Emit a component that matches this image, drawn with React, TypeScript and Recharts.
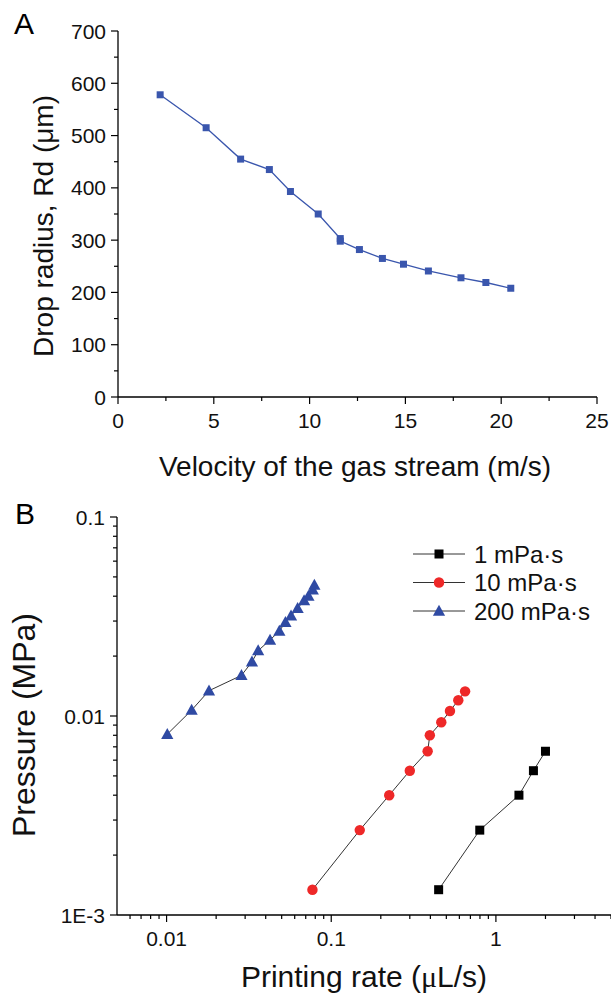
import React from 'react';
import { ScatterChart, Scatter, XAxis, YAxis, Label } from 'recharts';

const FONT = '"Liberation Sans", Arial, sans-serif';

// Panel A: drop radius vs gas velocity
const velocity = [2.2, 4.6, 6.4, 7.9, 9.0, 10.45, 11.6, 11.6, 12.6, 13.8, 14.9, 16.2, 17.9, 19.2, 20.5];
const dropRadius = [578, 515, 455, 435, 393, 350, 303, 298, 282, 265, 254, 241, 228, 219, 208];

const aXMajor = [0, 5, 10, 15, 20, 25];
const aXMinor = [2.5, 7.5, 12.5, 17.5, 22.5];
const aYMajor = [0, 100, 200, 300, 400, 500, 600, 700];
const aYMinor = [50, 150, 250, 350, 450, 550, 650];

// Panel B: pressure vs printing rate
const rate1 = [0.449, 0.798, 1.38, 1.69, 2.0];
const pressure1 = [0.00134, 0.00267, 0.004, 0.00531, 0.00665];
const rate10 = [0.0769, 0.149, 0.225, 0.3, 0.385, 0.397, 0.466, 0.526, 0.591, 0.65];
const pressure10 = [0.00134, 0.00267, 0.004, 0.00531, 0.00665, 0.008, 0.0093, 0.0106, 0.012, 0.0133];
const rate200 = [0.0101, 0.0142, 0.0181, 0.0285, 0.033, 0.036, 0.0425, 0.0484, 0.0527, 0.057, 0.0625, 0.0684, 0.0727, 0.0773, 0.079];
const pressure200 = [0.0081, 0.0107, 0.0134, 0.016, 0.0187, 0.0213, 0.0241, 0.0267, 0.0296, 0.0319, 0.0348, 0.038, 0.0401, 0.043, 0.0455];

const bXMajor = [0.01, 0.1, 1];
const bXMinor = [0.006, 0.007, 0.008, 0.009, 0.02, 0.03, 0.04, 0.05, 0.06, 0.07, 0.08, 0.09, 0.2, 0.3, 0.4, 0.5, 0.6, 0.7, 0.8, 0.9, 2, 3, 4, 5];
const bYMajor = [0.001, 0.01, 0.1];
const bYMinor = [0.002, 0.003, 0.004, 0.005, 0.006, 0.007, 0.008, 0.009, 0.02, 0.03, 0.04, 0.05, 0.06, 0.07, 0.08, 0.09];
const bYLabels: Record<string, string> = { '0.001': '1E-3', '0.01': '0.01', '0.1': '0.1' };

const zip = (xs: number[], ys: number[]) => xs.map((x, i) => ({ x, y: ys[i] }));
const dataA = zip(velocity, dropRadius);

const BLUE_A = '#3a56ad';
const BLUE = '#2f4aa3';
const RED = '#ee2828';

const seriesB = [
  { name: '1 mPa·s', data: zip(rate1, pressure1), color: '#000', shape: 'square' },
  { name: '10 mPa·s', data: zip(rate10, pressure10), color: RED, shape: 'circle' },
  { name: '200 mPa·s', data: zip(rate200, pressure200), color: BLUE, shape: 'triangle' },
];

const Marker = ({ cx, cy, shape, color, s }: any) => {
  if (shape === 'circle') return <circle cx={cx} cy={cy} r={s * 0.58} fill={color} />;
  if (shape === 'triangle')
    return <polygon points={`${cx},${cy - s * 0.7} ${cx - s * 0.68},${cy + s * 0.52} ${cx + s * 0.68},${cy + s * 0.52}`} fill={color} />;
  return <rect x={cx - s / 2} y={cy - s / 2} width={s} height={s} fill={color} />;
};

const XTick = ({ x, y, payload, majors, fmt, fs }: any) => {
  const major = majors.includes(payload.value);
  return (
    <g>
      <line x1={x} x2={x} y1={y} y2={y + (major ? 7 : 4)} stroke="#000" strokeWidth={1.2} />
      {major && (
        <text x={x} y={y + 14} dy="0.8em" textAnchor="middle" fontSize={fs} fontFamily={FONT} fill="#111">
          {fmt(payload.value)}
        </text>
      )}
    </g>
  );
};

const YTick = ({ x, y, payload, majors, fmt, fs }: any) => {
  const major = majors.includes(payload.value);
  return (
    <g>
      <line x1={x} x2={x - (major ? 7 : 4)} y1={y} y2={y} stroke="#000" strokeWidth={1.2} />
      {major && (
        <text x={x - 12} y={y} dy="0.36em" textAnchor="end" fontSize={fs} fontFamily={FONT} fill="#111">
          {fmt(payload.value)}
        </text>
      )}
    </g>
  );
};

const title = (text: React.ReactNode, x: number, y: number, fs: number, rotate = false) => () => (
  <text
    x={x}
    y={y}
    textAnchor="middle"
    fontSize={fs}
    fontFamily={FONT}
    fill="#111"
    transform={rotate ? `rotate(-90 ${x} ${y})` : undefined}
  >
    {text}
  </text>
);

const LegendB = () => (
  <svg width={200} height={90} style={{ display: 'block' }}>
    {seriesB.map((s, i) => {
      const y = 14 + i * 28.5;
      return (
        <g key={s.name}>
          <line x1={2} x2={54} y1={y} y2={y} stroke="#333" strokeWidth={1} />
          <Marker cx={28} cy={y} shape={s.shape} color={s.color} s={9} />
          <text x={63} y={y} dy="0.36em" fontSize={24} fontFamily={FONT} fill="#111">
            {s.name}
          </text>
        </g>
      );
    })}
  </svg>
);

export default function App() {
  return (
    <div style={{ position: 'absolute', left: 0, top: 0, width: 611, height: 998, background: '#fff', overflow: 'hidden' }}>
      <div style={{ position: 'absolute', left: 14, top: 6, fontFamily: FONT, fontSize: 30, color: '#000', lineHeight: '36px' }}>A</div>
      <div style={{ position: 'absolute', left: 15, top: 496, fontFamily: FONT, fontSize: 30, color: '#000', lineHeight: '36px' }}>B</div>

      <div style={{ position: 'absolute', left: 0, top: 0 }}>
        <ScatterChart width={611} height={490} margin={{ top: 31, right: 14, left: 0, bottom: 33 }}>
          <XAxis
            type="number"
            dataKey="x"
            domain={[0, 25]}
            ticks={[...aXMajor, ...aXMinor]}
            interval={0}
            tickSize={0}
            tickMargin={0}
            height={60}
            axisLine={{ stroke: '#000', strokeWidth: 1.3 }}
            tickLine={false}
            tick={(p: any) => <XTick {...p} majors={aXMajor} fmt={(v: number) => String(v)} fs={21} />}
          >
            <Label content={title('Velocity of the gas stream (m/s)', 355, 476, 28)} />
          </XAxis>
          <YAxis
            type="number"
            dataKey="y"
            domain={[0, 700]}
            ticks={[...aYMajor, ...aYMinor]}
            interval={0}
            tickSize={0}
            tickMargin={0}
            width={118}
            axisLine={{ stroke: '#000', strokeWidth: 1.3 }}
            tickLine={false}
            tick={(p: any) => <YTick {...p} majors={aYMajor} fmt={(v: number) => String(v)} fs={21} />}
          >
            <Label content={title('Drop radius, Rd (μm)', 53, 226, 28, true)} />
          </YAxis>
          <Scatter
            data={dataA}
            isAnimationActive={false}
            line={{ stroke: BLUE_A, strokeWidth: 1.3 }}
            lineType="joint"
            shape={(p: any) => <Marker cx={p.cx} cy={p.cy} shape="square" color={BLUE_A} s={7} />}
          />
        </ScatterChart>
      </div>

      <div style={{ position: 'absolute', left: 0, top: 490 }}>
        <ScatterChart width={611} height={508} margin={{ top: 27, right: 0, left: 0, bottom: 23 }}>
          <XAxis
            type="number"
            dataKey="x"
            scale="log"
            domain={[0.005, 5]}
            allowDataOverflow
            ticks={[...bXMajor, ...bXMinor]}
            interval={0}
            tickSize={0}
            tickMargin={0}
            height={60}
            axisLine={{ stroke: '#000', strokeWidth: 1.3 }}
            tickLine={false}
            tick={(p: any) => <XTick {...p} majors={bXMajor} fmt={(v: number) => String(v)} fs={21} />}
          >
            <Label
              content={title(
                <>
                  Printing rate (<tspan fontFamily='"Liberation Serif", serif'>μ</tspan>L/s)
                </>,
                364,
                497,
                30
              )}
            />
          </XAxis>
          <YAxis
            type="number"
            dataKey="y"
            scale="log"
            domain={[0.001, 0.1]}
            allowDataOverflow
            ticks={[...bYMajor, ...bYMinor]}
            interval={0}
            tickSize={0}
            tickMargin={0}
            width={117}
            axisLine={{ stroke: '#000', strokeWidth: 1.3 }}
            tickLine={false}
            tick={(p: any) => <YTick {...p} majors={bYMajor} fmt={(v: number) => bYLabels[String(v)]} fs={21} />}
          >
            <Label content={title('Pressure (MPa)', 35, 235, 32, true)} />
          </YAxis>
          {seriesB.map((s) => (
            <Scatter
              key={s.name}
              name={s.name}
              data={s.data}
              isAnimationActive={false}
              line={{ stroke: '#333', strokeWidth: 1 }}
              lineType="joint"
              shape={(p: any) => <Marker cx={p.cx} cy={p.cy} shape={s.shape} color={s.color} s={9} />}
            />
          ))}
        </ScatterChart>
      </div>

      <div style={{ position: 'absolute', left: 411, top: 540 }}>
        <LegendB />
      </div>
    </div>
  );
}
